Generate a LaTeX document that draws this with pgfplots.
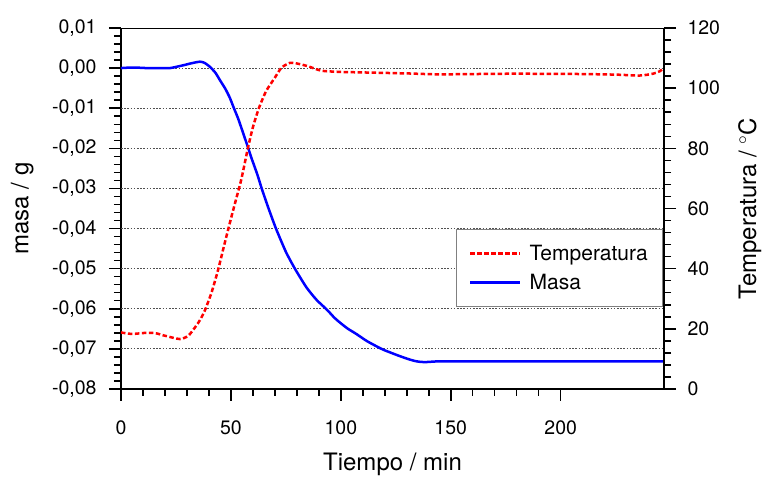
\documentclass[border=0pt]{standalone}
\usepackage{fontspec}
\setmainfont{TeX Gyre Heros}
\usepackage{pgfplots}
\pgfplotsset{compat=1.18}
\usetikzlibrary{calc}
\definecolor{gridgray}{RGB}{80,80,80}
\begin{document}
\begin{tikzpicture}
\pgfplotsset{
  myaxis/.style={
    scale only axis, width=543pt, height=361pt,
    xmin=0, xmax=247,
    tick align=outside,
    major tick length=12pt, minor tick length=7pt,
    every tick/.style={black, line width=1.5pt},
    every minor tick/.style={black, line width=1.5pt},
    /pgf/number format/assume math mode=true,
    tick label style={font=\fontsize{19.5}{22}\selectfont},
    label style={font=\fontsize{24}{28}\selectfont},
    axis line style={line width=1.8pt},
    scaled ticks=false,
  }
}
\begin{axis}[myaxis,
  ymin=-0.08, ymax=0.01,
  axis x line*=bottom, axis y line*=left,
  xtick={0,50,100,150,200}, minor x tick num=4,
  ytick={-0.08,-0.07,-0.06,-0.05,-0.04,-0.03,-0.02,-0.01,0,0.01},
  yticklabels={{-0,08},{-0,07},{-0,06},{-0,05},{-0,04},{-0,03},{-0,02},{-0,01},{0,00},{0,01}},
  minor y tick num=4,
  extra y ticks={-0.07,-0.06,-0.05,-0.04,-0.03,-0.02,-0.01,0},
  extra y tick labels={},
  extra tick style={major tick length=0pt, ymajorgrids=true,
     major grid style={gridgray, line width=0.9pt, dash pattern=on 1.6pt off 1.6pt}},
  xticklabel style={yshift=-16pt},
  yticklabel style={xshift=-9pt},
  xlabel={Tiempo / min},
  ylabel={masa / g},
  xlabel style={at={(axis description cs:0.5,-0.208)}, anchor=center},
  ylabel style={at={(axis description cs:-0.182,0.5)}, anchor=center},
]
\addplot[blue, line width=2.5pt, smooth, tension=0.4] coordinates {
(0,0) (3,0.0001) (8,0.0001) (12,0) (18,0) (22.3,0) (25,0.0003) (28.3,0.0007) (32,0.0012)
(35.9,0.0016) (38,0.0013) (40.5,0.0003) (43,-0.0012) (45,-0.003) (47.5,-0.0052)
(49.5,-0.0074) (51.3,-0.0099) (53.3,-0.0126) (55.5,-0.0161) (57.9,-0.020)
(59.4,-0.0225) (62,-0.0265) (64,-0.030) (67,-0.0348) (70.5,-0.040) (75,-0.0458)
(79.1,-0.050) (84.4,-0.0547) (89,-0.0578) (93.8,-0.0603) (97,-0.0622) (99.5,-0.0634)
(103,-0.0649) (107.1,-0.0663) (112,-0.0681) (118.5,-0.070) (122.5,-0.0709)
(126.8,-0.0718) (131,-0.0726) (134.4,-0.0731) (138,-0.0733) (145,-0.0731)
(160,-0.0731) (200,-0.0731) (247,-0.0731)
};
\coordinate (ll) at (rel axis cs:0,0);
\coordinate (ur) at (rel axis cs:1,1);
\draw[black, line width=0.8pt] (rel axis cs:0,1) -- (rel axis cs:1,1);
\end{axis}
\begin{axis}[myaxis,
  ymin=0, ymax=120,
  axis x line=none, axis y line*=right,
  ytick={0,20,40,60,80,100,120}, minor y tick num=4,
  yticklabel style={xshift=8pt},
  ylabel={Temperatura / $^{\circ}$C},
  ylabel style={at={(axis description cs:1.158,0.5)}, anchor=center, rotate=0},
  legend style={at={(axis cs:246.6,53.3)}, anchor=north east,
     draw=gray, line width=0.8pt, font=\fontsize{21}{25}\selectfont,
     inner xsep=13pt, inner ysep=14pt, row sep=8pt, column sep=6pt,
     nodes={inner sep=2pt},
     legend cell align=left},
  legend image code/.code={\draw[#1] (0pt,0pt) -- (50pt,0pt);},
]
\addplot[red, line width=2.5pt, dash pattern=on 4.5pt off 2.5pt, smooth, tension=0.4] coordinates {
(0,18.8) (5,18.3) (12,18.7) (16,18.5) (20,17.7) (26.8,16.6) (30.6,17.7) (33.6,20.4)
(36,23) (38.2,26.2) (41.2,32.1) (44.2,39.7) (46.5,46.5) (48.5,52.3) (50.5,58)
(52.5,63.5) (54.5,69) (56,74) (57.7,80) (60,87) (62.7,93.3) (66,99) (70,103.5) (73,106.8)
(76.8,108.4) (80,108.2) (85,107.3) (91.2,105.8) (100,105.4) (111.7,105.2)
(130,104.9) (145,104.6) (178,104.8) (208.6,104.7) (225,104.5) (236,104.2)
(242,104.8) (245,105.6) (247,106.6)
};
\addlegendentry{Temperatura}
\addlegendimage{blue, line width=2.5pt}
\addlegendentry{Masa}
\end{axis}
\pgfresetboundingbox
\path ($(ll)+(-121pt,-88pt)$) rectangle ($(ur)+(98pt,28pt)$);
\end{tikzpicture}
\end{document}
